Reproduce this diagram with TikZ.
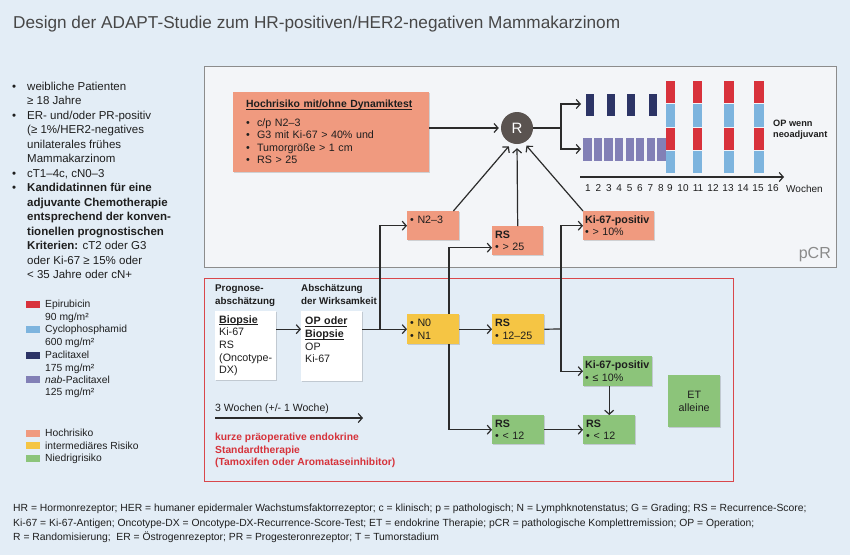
\documentclass[tikz,border=0pt]{standalone}
\usepackage{fontspec}
\setmainfont{Liberation Sans}
\usetikzlibrary{arrows.meta,shadows,calc}
\definecolor{bg}{HTML}{E3EDF6}
\definecolor{panel}{HTML}{F3F5F8}
\definecolor{panelline}{HTML}{8C8C8C}
\definecolor{redline}{HTML}{D9474B}
\definecolor{txt}{HTML}{1E1E1E}
\definecolor{titlec}{HTML}{474747}
\definecolor{ln}{HTML}{2B2B2B}
\definecolor{epi}{HTML}{D8323C}
\definecolor{cyc}{HTML}{7DB4DE}
\definecolor{pac}{HTML}{2C3466}
\definecolor{nab}{HTML}{8280B6}
\definecolor{hoch}{HTML}{F09A7F}
\definecolor{mid}{HTML}{F5C544}
\definecolor{low}{HTML}{8CC47A}
\definecolor{rgrey}{HTML}{5A5350}
\definecolor{redtext}{HTML}{D6333B}
\definecolor{pcrc}{HTML}{8A8A8A}
\newcommand\myul[1]{\leavevmode\setbox0\hbox{#1}\rlap{\rule[-1.7pt]{\wd0}{0.65pt}}\box0}
\begin{document}
\begin{tikzpicture}[x=1pt,y=-1pt,
  lc/.style={anchor=base west, inner sep=0, font=\fontsize{11.5}{14}\selectfont, text=txt},
  lg/.style={anchor=base west, inner sep=0, font=\fontsize{10.3}{12}\selectfont, text=txt},
  sw/.style={anchor=west, inner sep=0, minimum width=14, minimum height=7},
  bx/.style={anchor=north west, inner xsep=3pt, inner ysep=0pt, align=left, text=txt,
     font=\fontsize{10.7}{12.6}\selectfont,
     drop shadow={shadow xshift=1.2pt, shadow yshift=-1.2pt, fill=black, opacity=0.15}},
  wk/.style={inner sep=0, font=\fontsize{10}{12}\selectfont, text=txt},
  ln/.style={draw=ln, line width=1.2pt},
  arr/.style={draw=ln, line width=1.2pt, -{Straight Barb[length=4pt,width=9pt]}},
  ft/.style={anchor=base west, inner sep=0, font=\fontsize{10.35}{12}\selectfont, text=txt},
]
\fill[bg] (0,0) rectangle (850,555);
\useasboundingbox (0,0) rectangle (850,555);

% title
\node[anchor=base west, inner sep=0, font=\fontsize{17.2}{20}\selectfont, text=titlec] (title) at (13,28) {Design der ADAPT-Studie zum HR-positiven/HER2-negativen Mammakarzinom};

% panels
\node[draw=panelline, fill=panel, line width=1.2pt, anchor=north west, minimum width=632, minimum height=201, inner sep=0] (pcrbox) at (204,66) {};
\node[anchor=south east, inner sep=0, font=\fontsize{16}{18}\selectfont, text=pcrc] (pcr) at (831,262) {pCR};
\node[draw=redline, line width=1.3pt, anchor=north west, minimum width=529, minimum height=203, inner sep=0] (redbox) at (204,278) {};

% left column
\node[lc] (b1) at (12,90) {•};
\node[lc] (t1) at (27,90) {weibliche Patienten};
\node[lc] (t2) at (27,104.5) {≥ 18 Jahre};
\node[lc] (b2) at (12,119) {•};
\node[lc] (t3) at (27,119) {ER- und/oder PR-positiv};
\node[lc] (t4) at (27,133.5) {(≥ 1\%/HER2-negatives};
\node[lc] (t5) at (27,148) {unilaterales frühes};
\node[lc] (t6) at (27,162.5) {Mammakarzinom};
\node[lc] (b3) at (12,177) {•};
\node[lc] (t7) at (27,177) {cT1–4c, cN0–3};
\node[lc] (b4) at (12,191.5) {•};
\node[lc] (t8) at (27,191.5) {\textbf{Kandidatinnen für eine}};
\node[lc] (t9) at (27,206) {\textbf{adjuvante Chemotherapie}};
\node[lc] (t10) at (27,220.5) {\textbf{entsprechend der konven-}};
\node[lc] (t11) at (27,235) {\textbf{tionellen prognostischen}};
\node[lc] (t12) at (27,249.5) {\textbf{Kriterien:} cT2 oder G3};
\node[lc] (t13) at (27,264) {oder Ki-67 ≥ 15\% oder};
\node[lc] (t14) at (27,278.5) {< 35 Jahre oder cN+};

% legend
\node[sw, fill=epi] (s1) at (26,304) {};
\node[lg] (l1) at (45,307.7) {Epirubicin};
\node[lg] (l1b) at (45,320.5) {90 mg/m²};
\node[sw, fill=cyc] (s2) at (26,329) {};
\node[lg] (l2) at (45,332.7) {Cyclophosphamid};
\node[lg] (l2b) at (45,345.5) {600 mg/m²};
\node[sw, fill=pac] (s3) at (26,355) {};
\node[lg] (l3) at (45,358.7) {Paclitaxel};
\node[lg] (l3b) at (45,371) {175 mg/m²};
\node[sw, fill=nab] (s4) at (26,379.5) {};
\node[lg] (l4) at (45,383.2) {\textit{nab}-Paclitaxel};
\node[lg] (l4b) at (45,395.7) {125 mg/m²};
\node[sw, fill=hoch] (s5) at (26,433) {};
\node[lg] (l5) at (45,436.7) {Hochrisiko};
\node[sw, fill=mid] (s6) at (26,445.5) {};
\node[lg] (l6) at (45,449.2) {intermediäres Risiko};
\node[sw, fill=low] (s7) at (26,458) {};
\node[lg] (l7) at (45,461.7) {Niedrigrisiko};

% boxes upper
\node[bx, fill=hoch, inner xsep=13pt, text width=170pt, minimum height=80] (hoch) at (233,92)
  {\mbox{\fontsize{10.4}{12.6}\selectfont\myul{\textbf{Hochrisiko mit/ohne Dynamiktest}}}\\[5.5pt]
   •\ \ c/p N2–3\\ •\ \ G3 mit Ki-67 > 40\% und\\ •\ \ Tumorgröße > 1 cm\\ •\ \ RS > 25};
\node[circle, fill=rgrey, minimum size=32pt, inner sep=0, text=white, font=\fontsize{15}{15}\selectfont] (R) at (517,128) {R};
\node[bx, fill=hoch, text width=46pt, minimum height=29] (n23) at (407,211) {•\ N2–3\\\phantom{X}};
\node[bx, fill=hoch, text width=45pt, minimum height=29] (rs25) at (492,226) {\textbf{RS}\\•\ > 25};
\node[bx, fill=hoch, text width=67pt, minimum height=29, inner xsep=2pt] (ki67hi) at (583,211) {\mbox{\textbf{Ki-67-positiv}}\\•\ > 10\%};

% timeline
\foreach \x in {590,610.7,631.3,652.7} \fill[pac] (\x-4,94) rectangle (\x+4,116);
\foreach \i in {0,...,7} \fill[nab] ({583.3+10.57*\i},138.3) rectangle ++(8.3,22.4);
\foreach \x in {670.3,697.7,729,759} {
  \fill[epi] (\x-4.7,81) rectangle (\x+4.7,103);
  \fill[cyc] (\x-4.7,104) rectangle (\x+4.7,127);
  \fill[epi] (\x-4.7,128) rectangle (\x+4.7,150);
  \fill[cyc] (\x-4.7,151) rectangle (\x+4.7,173);
}
\node[anchor=base west, inner sep=0, align=left, font=\bfseries\fontsize{9.2}{11}\selectfont, text=txt] (opw) at (773,137.3) {OP wenn\\neoadjuvant};
\coordinate (ax0) at (580,177);
\coordinate (ax1) at (784,177);
\draw[arr] (ax0) -- (ax1);
\foreach \w/\x in {1/588,2/598.4,3/608.8,4/619.2,5/629.6,6/640,7/650.4,8/660.8,9/670,10/683,11/698,12/713,13/728,14/743,15/758,16/773}
  \node[wk] (wk\w) at (\x,188.5) {\w};
\node[wk, anchor=west] (woch) at (786,188.5) {Wochen};

% lower panel
\node[anchor=base west, inner sep=0, align=left, font=\bfseries\fontsize{9.8}{13}\selectfont, text=txt] (prog) at (215,304.7) {Prognose-\\abschätzung};
\node[anchor=base west, inner sep=0, align=left, font=\bfseries\fontsize{9.8}{13}\selectfont, text=txt] (absch) at (301,304.7) {Abschätzung\\der Wirksamkeit};
\node[bx, fill=white, inner xsep=4pt, text width=53pt, minimum height=69] (biop) at (215,311)
  {\myul{\textbf{Biopsie}}\\Ki-67\\RS\\\mbox{(Oncotype-}\\DX)};
\node[bx, fill=white, inner xsep=4pt, text width=53pt, minimum height=70] (op) at (301,311)
  {\myul{\textbf{OP oder}}\\\myul{\textbf{Biopsie}}\\OP\\Ki-67\\\phantom{X}};
\node[bx, fill=mid, text width=46pt, minimum height=30] (n01) at (407,314) {•\ N0\\•\ N1};
\node[bx, fill=mid, text width=46pt, minimum height=30] (rs1225) at (492,314) {\textbf{RS}\\•\ 12–25};
\node[bx, fill=low, text width=65pt, minimum height=30, inner xsep=2pt] (ki67lo) at (583,356) {\mbox{\textbf{Ki-67-positiv}}\\•\ ≤ 10\%};
\node[bx, fill=low, text width=46pt, minimum height=29] (rs12a) at (492,415) {\textbf{RS}\\•\ < 12};
\node[bx, fill=low, text width=46pt, minimum height=29] (rs12b) at (583,415) {\textbf{RS}\\•\ < 12};
\node[bx, fill=low, align=center, text width=46pt, minimum height=52] (et) at (668,375) {ET\\alleine};

\node[anchor=base west, inner sep=0, font=\fontsize{10.5}{12}\selectfont, text=txt] (w3) at (215,411.7) {3 Wochen (+/- 1 Woche)};
\coordinate (w3a) at (215,418);
\coordinate (w3b) at (363,418);
\draw[arr] (w3a) -- (w3b);
\node[anchor=base west, inner sep=0, align=left, font=\bfseries\fontsize{10.3}{12.5}\selectfont, text=redtext] (kurz) at (215,465.7) {kurze präoperative endokrine\\Standardtherapie\\(Tamoxifen oder Aromataseinhibitor)};

% connectors
\draw[arr, shorten >=2pt] (hoch.east |- R) -- (R.west);
\draw[arr, shorten >=4pt] ($(n23.north east)+(-6,0)$) -- (R.250);
\draw[arr, shorten >=4pt] (rs25.north) -- (R.south);
\draw[arr, shorten >=4pt] (ki67hi.north west) -- (R.295);
\coordinate (rj) at (561,128);
\coordinate (pacin) at (581,104);
\coordinate (nabin) at (581,149);
\draw[ln] (R.east) -- (rj);
\draw[arr] (rj) |- (pacin);
\draw[arr] (rj) |- (nabin);

\draw[arr] (biop.east |- n01) -- (op.west |- n01);
\draw[arr] (op.east |- n01) -- (n01.west);
\coordinate (j1) at (380,329);
\draw[arr] (j1) |- (n23.west);
\coordinate (vx) at (449,0);
\draw[arr] (n01.north -| vx) |- ($(rs25.west)+(0,7)$);
\draw[arr] (n01.south -| vx) |- (rs12a.west);
\draw[arr] (n01.east) -- (rs1225.west);
\coordinate (j2) at (561,329);
\draw[ln] (rs1225.east) -- (j2);
\draw[arr] (j2) |- (ki67hi.west);
\draw[arr] (j2) |- (ki67lo.west);
\draw[arr] (ki67lo.south -| rs12b.north) -- (rs12b.north);
\draw[arr] (rs12a.east) -- (rs12b.west);

% footer
\node[ft] (f1) at (13,511.5) {HR = Hormonrezeptor; HER = humaner epidermaler Wachstumsfaktorrezeptor; c = klinisch; p = pathologisch; N = Lymphknotenstatus; G = Grading; RS = Recurrence-Score;};
\node[ft] (f2) at (13,526) {Ki-67 = Ki-67-Antigen; Oncotype-DX = Oncotype-DX-Recurrence-Score-Test; ET = endokrine Therapie; pCR = pathologische Komplettremission; OP = Operation;};
\node[ft] (f3) at (13,540.5) {R = Randomisierung;\ \ ER = Östrogenrezeptor; PR = Progesteronrezeptor; T = Tumorstadium};
\end{tikzpicture}
\end{document}
